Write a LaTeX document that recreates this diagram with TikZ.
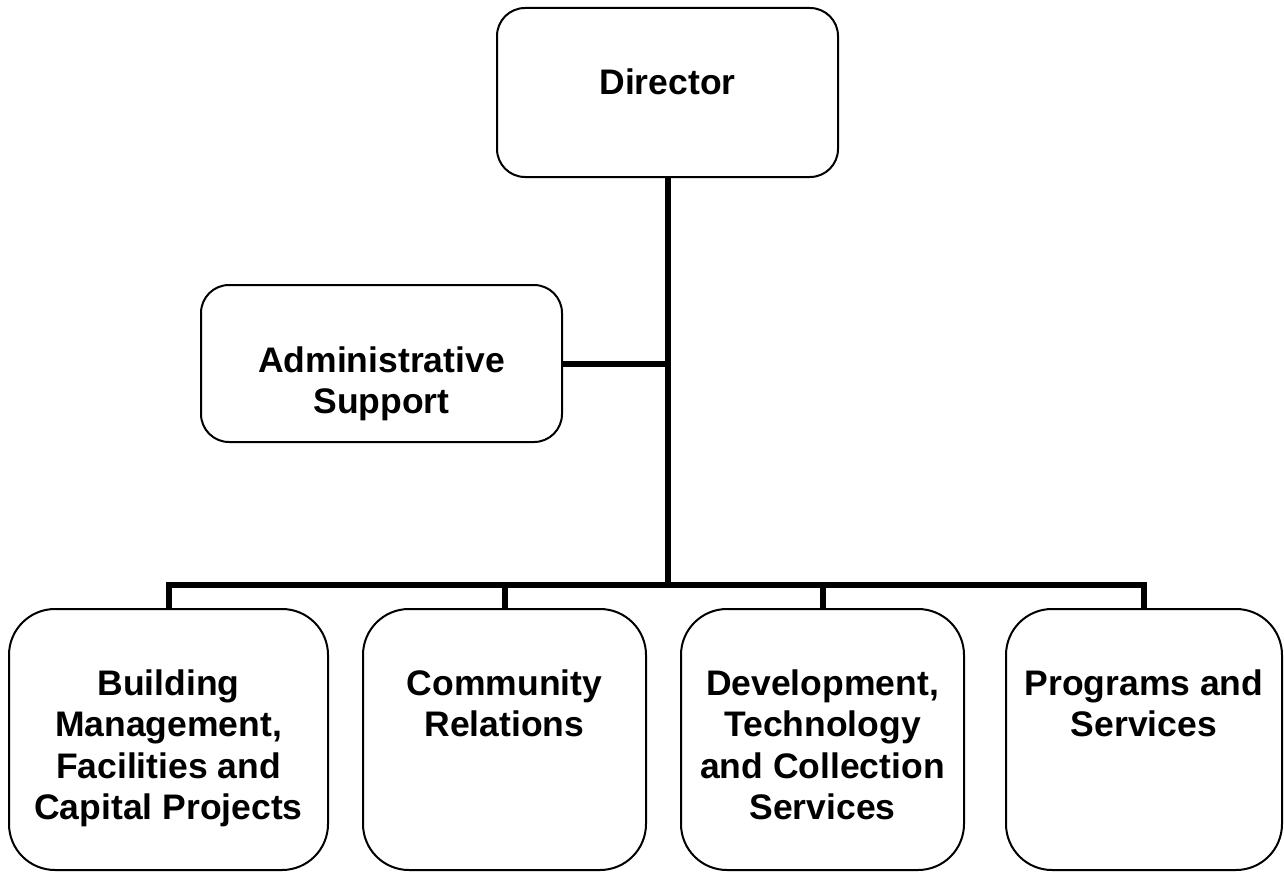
\documentclass[tikz,border=0pt]{standalone}
\usepackage{fontspec}
\setmainfont{Liberation Sans}
\begin{document}
\begin{tikzpicture}[x=1pt,y=-1pt,
  box/.style={draw, line width=2pt, rounded corners=28pt, inner sep=0pt, outer sep=0pt},
  bigbox/.style={box, rounded corners=46pt, minimum height=261pt},
  txt/.style={anchor=base, inner sep=0pt, font=\fontsize{35.5}{41.5}\selectfont\bfseries},
  wire/.style={line width=6pt, line join=miter}]
\useasboundingbox (0,0) rectangle (1284,872);
% boxes
\node[box, minimum width=341pt, minimum height=169pt] (dir) at (667.5,92.5) {};
\node[box, minimum width=361pt, minimum height=157pt] (adm) at (381.5,363.5) {};
\node[bigbox, minimum width=319pt] (b1) at (168.5,739.5) {};
\node[bigbox, minimum width=283pt] (b2) at (504.5,739.5) {};
\node[bigbox, minimum width=283pt] (b3) at (822.5,739.5) {};
\node[bigbox, minimum width=276pt] (b4) at (1144,739.5) {};
% texts
\node[txt] (dirT) at ([yshift=-87pt]dir.north) {\begin{tabular}[t]{@{}c@{}}Director\end{tabular}};
\node[txt] (admT) at ([yshift=-87pt]adm.north) {\begin{tabular}[t]{@{}c@{}}Administrative\\Support\end{tabular}};
\node[txt] (b1T) at ([yshift=-86pt]b1.north) {\begin{tabular}[t]{@{}c@{}}Building\\Management,\\Facilities and\\Capital Projects\end{tabular}};
\node[txt] (b2T) at ([yshift=-86pt]b2.north) {\begin{tabular}[t]{@{}c@{}}Community\\Relations\end{tabular}};
\node[txt] (b3T) at ([yshift=-86pt]b3.north) {\begin{tabular}[t]{@{}c@{}}Development,\\Technology\\and Collection\\Services\end{tabular}};
\node[txt] (b4T) at ([yshift=-86pt]b4.north) {\begin{tabular}[t]{@{}c@{}}Programs and\\Services\end{tabular}};
% connectors
\coordinate (hub) at (667.5,585);
\draw[wire] (dir.south) -- (hub);
\draw[wire] (adm.east) -- (adm.east -| dir.south);
\draw[wire] (b1.north) -- (b1.north |- hub) -- (b4.north |- hub) -- (b4.north);
\draw[wire] (b2.north) -- (b2.north |- hub);
\draw[wire] (b3.north) -- (b3.north |- hub);
\end{tikzpicture}
\end{document}
